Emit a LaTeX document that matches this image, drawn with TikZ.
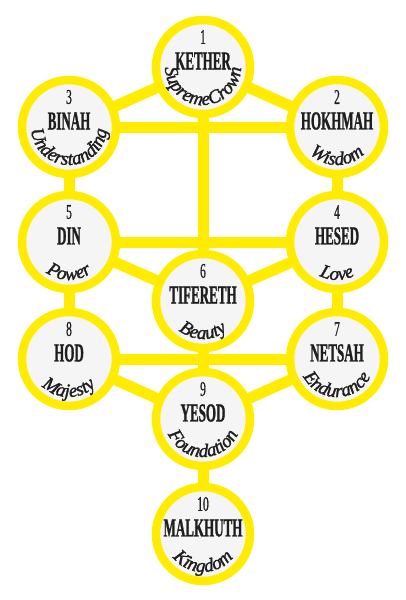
\documentclass[tikz,border=0pt]{standalone}
\usepackage{fontspec}
\setmainfont{Liberation Serif}
\newfontfamily\namefont[FakeStretch=0.5,FakeBold=1]{Liberation Serif}
\newfontfamily\numfont[FakeStretch=0.55,FakeBold=0.6]{Liberation Serif}
\newfontfamily\wordfamily[FakeBold=1.6]{Liberation Serif}
\usetikzlibrary{backgrounds,decorations.text}
\definecolor{sefyellow}{RGB}{255,236,0}
\definecolor{sefgrey}{RGB}{245,245,245}
\definecolor{ink}{RGB}{30,30,30}
\newcommand\wordfont{\wordfamily\itshape\fontsize{19}{19}\selectfont}

\begin{document}
\begin{tikzpicture}[x=1pt,y=1pt,
    sefira/.style={circle,draw=sefyellow,line width=8.5pt,fill=sefgrey,minimum size=94pt,inner sep=0pt},
    numtxt/.style={font=\numfont\fontsize{21}{21}\selectfont,text=ink,inner sep=0pt},
    nametxt/.style={font=\namefont\bfseries\fontsize{26}{26}\selectfont,text=ink,inner sep=0pt},
    bar/.style={draw=sefyellow,line width=11pt}]
  % the ten sefirot
  \foreach \id/\x/\y/\n/\name/\word in {
      kether/203/67/1/KETHER/SupremeCrown,
      hokhmah/337/127/2/HOKHMAH/Wisdom,
      binah/69/127/3/BINAH/Understanding,
      hesed/337/242/4/HESED/Love,
      din/69/242/5/DIN/Power,
      tifereth/203/301/6/TIFERETH/Beauty,
      netsah/337/359/7/NETSAH/Endurance,
      hod/69/359/8/HOD/Majesty,
      yesod/203/419/9/YESOD/Foundation,
      malkhuth/203/534/10/MALKHUTH/Kingdom}{
    \node[sefira] (\id) at (\x,-\y) {};
    \node[numtxt] (\id-num) at ([yshift=30pt]\id.center) {\n};
    \node[nametxt] (\id-name) at ([yshift=6pt]\id.center) {\name};
    \path[decorate,decoration={text along path,text align=center,text color=ink,
        text/.expanded={|\noexpand\wordfont|\word}}]
      ([shift={(160:38pt)}]\id.center) arc[start angle=160,end angle=380,radius=38pt];
  }
  % paths between them
  \begin{scope}[on background layer]
    \fill[white] (0,0) rectangle (405,-600);
    \foreach \a/\b in {kether/binah,kether/hokhmah,binah/hokhmah,kether/tifereth,
        binah/din,hokhmah/hesed,din/hesed,din/tifereth,hesed/tifereth,
        din/hod,hesed/netsah,tifereth/yesod,hod/netsah,hod/yesod,netsah/yesod,
        yesod/malkhuth}
      \draw[bar] (\a.center) -- (\b.center);
  \end{scope}
  \useasboundingbox (0,0) rectangle (405,-600);
\end{tikzpicture}
\end{document}
